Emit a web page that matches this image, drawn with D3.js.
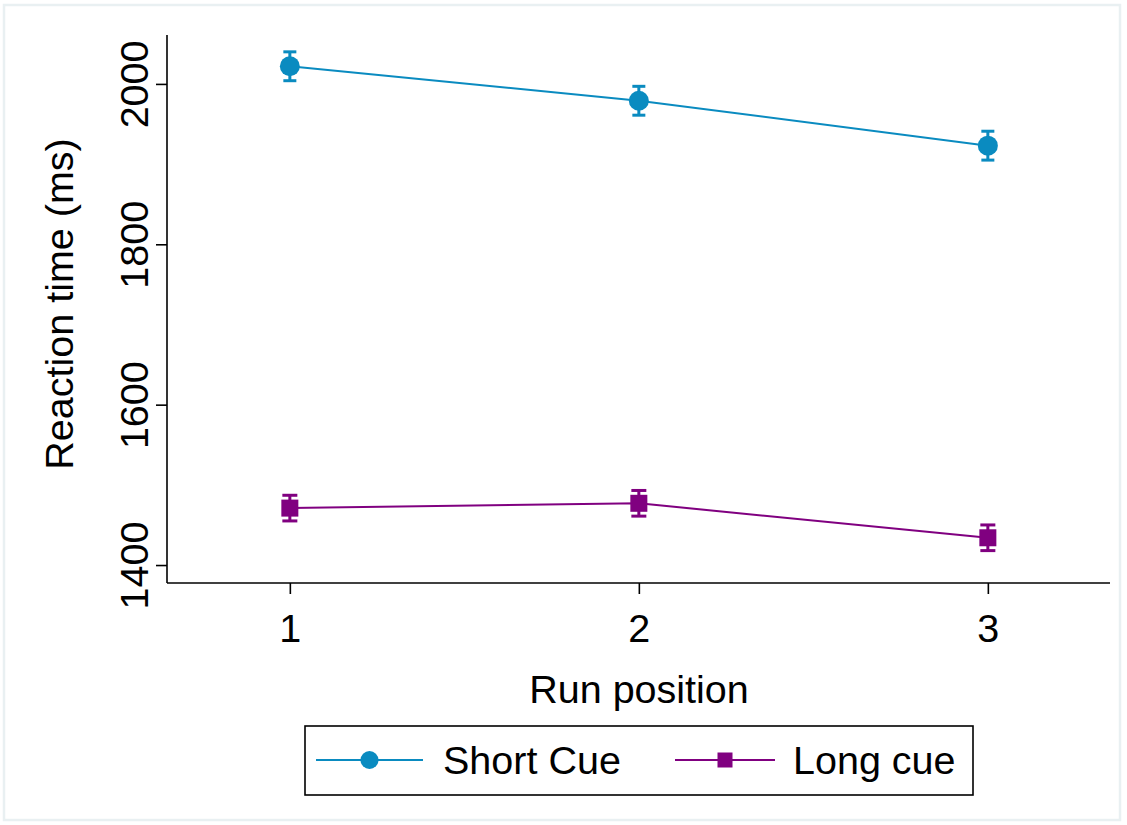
<!DOCTYPE html>
<html>
<head>
<meta charset="utf-8">
<script src="https://cdn.jsdelivr.net/npm/d3@7"></script>
<style>
  html, body { margin: 0; padding: 0; background: #fff; }
  svg { display: block; font-family: "Liberation Sans", Arial, sans-serif; }
</style>
</head>
<body>
<svg id="chart" width="1127" height="825"></svg>
<script>
// Run positions on the x axis
const runPositions = [1, 2, 3];
// Mean reaction times (ms) and half-widths of the error bars
const shortCueMeans = [2022, 1979, 1923];
const shortCueErr = [18, 18, 18];
const longCueMeans = [1471, 1477, 1434];
const longCueErr = [16, 16, 16];
const yTicks = [1400, 1600, 1800, 2000];
const seriesNames = ["Short Cue", "Long cue"];

const W = 1127, H = 825;
const plot = { left: 167, right: 1110, top: 35, bottom: 583 };
const colors = { short: "#0a8bc0", long: "#800080" };
const FONT = 39.5;

const svg = d3.select("#chart");

// outer frame
svg.append("rect")
  .attr("x", 4).attr("y", 5).attr("width", 1116).attr("height", 815)
  .attr("fill", "#fff").attr("stroke", "#e9f0f2").attr("stroke-width", 2.5);

const x = d3.scaleLinear().domain([0.648, 3.35]).range([plot.left, plot.right]);
const y = d3.scaleLinear().domain([1377.6, 2061]).range([plot.bottom, plot.top]);

// y axis
const yAxis = d3.axisLeft(y).tickValues(yTicks).tickSize(11).tickFormat(d3.format("d"));
const gy = svg.append("g").attr("transform", `translate(${plot.left},0)`).call(yAxis);
gy.select(".domain").attr("stroke", "#000").attr("stroke-width", 1.6)
  .attr("d", `M0,${plot.top}V${plot.bottom}`);
gy.selectAll(".tick line").attr("stroke", "#000").attr("stroke-width", 1.6);
gy.selectAll(".tick text")
  .attr("x", null).attr("dy", null)
  .attr("transform", "translate(-19,0) rotate(-90)")
  .attr("text-anchor", "middle")
  .attr("font-size", FONT).attr("fill", "#000");

// x axis
const xAxis = d3.axisBottom(x).tickValues(runPositions).tickSize(11).tickFormat(d3.format("d"));
const gx = svg.append("g").attr("transform", `translate(0,${plot.bottom})`).call(xAxis);
gx.select(".domain").attr("stroke", "#000").attr("stroke-width", 1.6)
  .attr("d", `M${plot.left},0H${plot.right}`);
gx.selectAll(".tick line").attr("stroke", "#000").attr("stroke-width", 1.6);
gx.selectAll(".tick text")
  .attr("y", 59).attr("dy", null)
  .attr("font-size", FONT).attr("fill", "#000");

// axis titles
svg.append("text")
  .attr("transform", `translate(73,${(130 + 478) / 2}) rotate(-90)`)
  .attr("text-anchor", "middle").attr("font-size", FONT).attr("fill", "#000")
  .text("Reaction time (ms)");
svg.append("text")
  .attr("x", 639).attr("y", 703)
  .attr("text-anchor", "middle").attr("font-size", FONT).attr("fill", "#000")
  .text("Run position");

// draw one series: connecting line, error bars with caps, markers
function drawSeries(means, errs, color, shape) {
  const data = runPositions.map((p, i) => ({ p, m: means[i], e: errs[i] }));
  const g = svg.append("g");
  g.append("path").datum(data)
    .attr("fill", "none").attr("stroke", color).attr("stroke-width", 2)
    .attr("d", d3.line().x(d => x(d.p)).y(d => y(d.m)));
  const capW = shape === "circle" ? 13 : 15;
  data.forEach(d => {
    g.append("line")
      .attr("x1", x(d.p)).attr("x2", x(d.p))
      .attr("y1", y(d.m - d.e)).attr("y2", y(d.m + d.e))
      .attr("stroke", color).attr("stroke-width", 3);
    [d.m - d.e, d.m + d.e].forEach(v => {
      g.append("line")
        .attr("x1", x(d.p) - capW / 2).attr("x2", x(d.p) + capW / 2)
        .attr("y1", y(v)).attr("y2", y(v))
        .attr("stroke", color).attr("stroke-width", 3);
    });
    if (shape === "circle") {
      g.append("circle").attr("cx", x(d.p)).attr("cy", y(d.m)).attr("r", 10).attr("fill", color);
    } else {
      g.append("rect").attr("x", x(d.p) - 8.5).attr("y", y(d.m) - 8.5)
        .attr("width", 17).attr("height", 17).attr("fill", color);
    }
  });
}
drawSeries(shortCueMeans, shortCueErr, colors.short, "circle");
drawSeries(longCueMeans, longCueErr, colors.long, "square");

// legend
const lg = svg.append("g");
lg.append("rect").attr("x", 305).attr("y", 726).attr("width", 668).attr("height", 69)
  .attr("fill", "#fff").attr("stroke", "#000").attr("stroke-width", 1.6);
const ly = 760;
const legendItems = [
  { name: seriesNames[0], color: colors.short, shape: "circle", x1: 316, x2: 423, tx: 443 },
  { name: seriesNames[1], color: colors.long, shape: "square", x1: 675, x2: 775, tx: 793 }
];
legendItems.forEach(it => {
  lg.append("line").attr("x1", it.x1).attr("x2", it.x2).attr("y1", ly).attr("y2", ly)
    .attr("stroke", it.color).attr("stroke-width", 2);
  const cx = (it.x1 + it.x2) / 2;
  if (it.shape === "circle") {
    lg.append("circle").attr("cx", cx).attr("cy", ly).attr("r", 9).attr("fill", it.color);
  } else {
    lg.append("rect").attr("x", cx - 7.5).attr("y", ly - 7.5).attr("width", 15).attr("height", 15)
      .attr("fill", it.color);
  }
  lg.append("text").attr("x", it.tx).attr("y", ly + 14)
    .attr("font-size", FONT).attr("fill", "#000").text(it.name);
});
</script>
</body>
</html>
